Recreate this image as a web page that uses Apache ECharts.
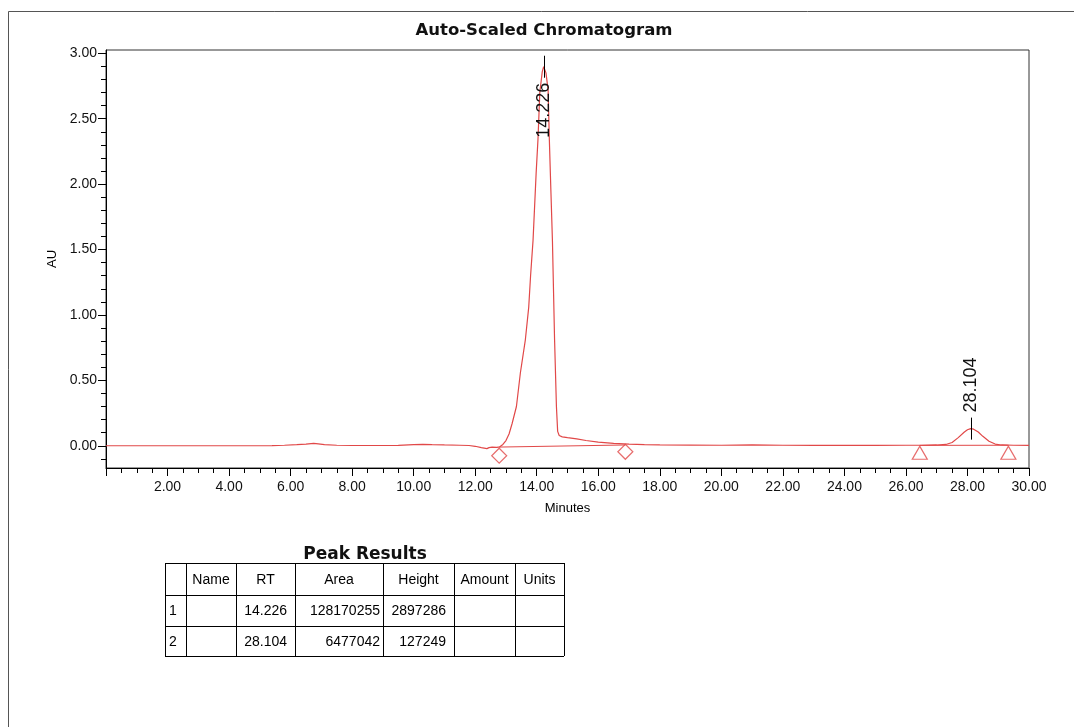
<!DOCTYPE html>
<html>
<head>
<meta charset="utf-8">
<title>Auto-Scaled Chromatogram</title>
<script src="https://cdn.jsdelivr.net/npm/echarts@6/dist/echarts.min.js"></script>
<style>
  html, body { margin: 0; padding: 0; background: #fff; }
  #chart { width: 1074px; height: 727px; }
</style>
</head>
<body>
<div id="chart"></div>
<script>
// Detector trace: retention time (min) and absorbance (AU)
const minutes = [
  0.00, 1.00, 2.00, 3.00, 4.00, 5.00, 5.40, 5.80, 6.20, 6.50, 6.75, 6.90, 7.10, 7.50,
  8.00, 8.50, 9.00, 9.50, 10.00, 10.30, 10.60, 11.00, 11.50, 11.80, 12.00, 12.20, 12.38,
  12.45, 12.55, 12.70, 12.80, 12.90, 13.00, 13.10, 13.20, 13.34, 13.47, 13.63, 13.74,
  13.80, 13.88, 13.98, 14.04, 14.10, 14.18, 14.226, 14.30, 14.37, 14.41, 14.46, 14.51,
  14.58, 14.64, 14.68, 14.73, 14.83, 15.00, 15.30, 15.60, 16.00, 16.50, 17.00, 17.50,
  18.00, 19.00, 20.00, 21.00, 22.00, 23.00, 24.00, 25.00, 26.00, 26.50, 27.00, 27.30,
  27.50, 27.70, 27.90, 28.00, 28.104, 28.20, 28.35, 28.50, 28.70, 28.90, 29.10, 29.50, 30.00
];
const au = [
  0.000, 0.000, 0.000, 0.000, 0.000, 0.000, 0.001, 0.004, 0.008, 0.012, 0.018, 0.014, 0.008, 0.004,
  0.002, 0.002, 0.002, 0.003, 0.008, 0.010, 0.008, 0.006, 0.004, 0.002, -0.004, -0.014, -0.022,
  -0.014, -0.010, -0.012, -0.008, 0.010, 0.040, 0.090, 0.170, 0.300, 0.560, 0.810, 1.060,
  1.300, 1.570, 2.080, 2.340, 2.700, 2.860, 2.897, 2.850, 2.720, 2.340, 1.950, 1.570,
  0.810, 0.300, 0.110, 0.078, 0.068, 0.062, 0.052, 0.040, 0.028, 0.018, 0.012, 0.008,
  0.006, 0.005, 0.004, 0.006, 0.004, 0.003, 0.004, 0.003, 0.004, 0.004, 0.006, 0.010,
  0.025, 0.062, 0.105, 0.122, 0.131, 0.127, 0.105, 0.072, 0.035, 0.013, 0.006, 0.004, 0.003
];

// Integrated peaks: apex (RT, AU) and integration limits
const peakRT = [14.226, 28.104];
const peakApexAU = [2.897, 0.131];
const peak1Limits = [[12.78, -0.076], [16.88, -0.046]];   // diamond marks
const peak2Limits = [[26.45, -0.053], [29.33, -0.053]];   // triangle marks
const peak1Baseline = [[12.78, -0.010], [16.88, 0.006]];
const peak2Baseline = [[26.45, 0.003], [29.33, 0.004]];

// Axis ticks
const yMajorTicks = [0, 0.5, 1.0, 1.5, 2.0, 2.5, 3.0];
const yMinorTicks = [];
for (let i = -1; i <= 30; i++) {
  if (i % 5 !== 0) yMinorTicks.push(i / 10);
}

// Peak Results table
const tableTitle = 'Peak Results';
const tableHeaders = ['', 'Name', 'RT', 'Area', 'Height', 'Amount', 'Units'];
const peakRows = [
  ['1', '', '14.226', '128170255', '2897286', '', ''],
  ['2', '', '28.104', '6477042', '127249', '', '']
];

const RED = '#e14848';
const SANS = '"Liberation Sans", Arial, sans-serif';
const BOLD = '"DejaVu Sans", Verdana, sans-serif';

const chromatogram = minutes.map((m, i) => [m, au[i]]);
const apexData = peakRT.map((rt, i) => [rt, peakApexAU[i], rt.toFixed(3)]);

// Table drawn as graphic lines + text
const colX = [165, 186, 236, 295, 383, 454, 515, 564];
const rowY = [563, 595, 626, 656];
const tableGraphics = [];
rowY.forEach(y => tableGraphics.push({
  type: 'line', shape: { x1: colX[0], y1: y + 0.5, x2: colX[colX.length - 1], y2: y + 0.5 },
  style: { stroke: '#000', lineWidth: 1 }
}));
colX.forEach(x => tableGraphics.push({
  type: 'line', shape: { x1: x + 0.5, y1: rowY[0], x2: x + 0.5, y2: rowY[rowY.length - 1] },
  style: { stroke: '#000', lineWidth: 1 }
}));
function cellText(text, x, y, align) {
  return {
    type: 'text', x: x, y: y,
    style: { text: text, font: '14px ' + SANS, fill: '#000',
      align: align, textAlign: align, verticalAlign: 'middle', textVerticalAlign: 'middle' }
  };
}
tableHeaders.forEach((h, c) => {
  if (!h) return;
  tableGraphics.push(cellText(h, (colX[c] + colX[c + 1]) / 2, (rowY[0] + rowY[1]) / 2 + 1, 'center'));
});
peakRows.forEach((row, r) => {
  const cy = (rowY[r + 1] + rowY[r + 2]) / 2 + 1;
  row.forEach((v, c) => {
    if (!v) return;
    if (c === 0) tableGraphics.push(cellText(v, colX[0] + 4, cy, 'left'));
    else {
      const pad = c === 3 ? 3 : 8;
      tableGraphics.push(cellText(v, colX[c + 1] - pad, cy, 'right'));
    }
  });
});

const chart = echarts.init(document.getElementById('chart'), null, { renderer: 'canvas' });

chart.setOption({
  animation: false,
  backgroundColor: '#fff',
  grid: {
    left: 106, top: 50, right: 45, bottom: 259,
    show: true, borderColor: '#333', borderWidth: 1,
    containLabel: false, outerBoundsMode: 'none'
  },
  xAxis: {
    type: 'value', min: 0, max: 30, interval: 2,
    name: 'Minutes', nameLocation: 'middle', nameGap: 34,
    nameTextStyle: { fontFamily: SANS, fontSize: 13, color: '#000' },
    axisLine: { show: true, onZero: false, lineStyle: { color: '#000', width: 1 } },
    axisTick: { show: true, length: 8, lineStyle: { color: '#000', width: 1 } },
    minorTick: { show: true, splitNumber: 4, length: 5, lineStyle: { color: '#000', width: 1 } },
    axisLabel: {
      fontFamily: SANS, fontSize: 14, color: '#111', margin: 12,
      formatter: v => (v === 0 ? '' : v.toFixed(2))
    },
    splitLine: { show: false },
    minorSplitLine: { show: false }
  },
  yAxis: [
    {
      type: 'value', min: -0.17, max: 3.025, position: 'left',
      name: 'AU', nameLocation: 'middle', nameGap: 46, nameRotate: 90,
      nameTextStyle: { fontFamily: SANS, fontSize: 13, color: '#000' },
      axisLine: { show: true, onZero: false, lineStyle: { color: '#000', width: 1 } },
      axisTick: { show: true, length: 8, customValues: yMajorTicks, lineStyle: { color: '#000', width: 1 } },
      axisLabel: {
        customValues: yMajorTicks, fontFamily: SANS, fontSize: 14, color: '#111', margin: 9,
        formatter: v => v.toFixed(2)
      },
      splitLine: { show: false }
    },
    {
      type: 'value', min: -0.17, max: 3.025, position: 'left', offset: 0,
      axisLine: { show: false },
      axisTick: { show: true, length: 5, customValues: yMinorTicks, lineStyle: { color: '#000', width: 1 } },
      axisLabel: { show: false },
      splitLine: { show: false }
    }
  ],
  graphic: [
    {
      type: 'polyline', shape: { points: [[8.5, 727], [8.5, 11.5], [1074, 11.5]] },
      style: { stroke: '#555', lineWidth: 1, fill: null }
    },
    {
      type: 'text', x: 544, y: 31,
      style: { text: 'Auto-Scaled Chromatogram', font: 'bold 16.5px ' + BOLD, fill: '#111',
        align: 'center', textAlign: 'center', verticalAlign: 'middle', textVerticalAlign: 'middle' }
    },
    {
      type: 'text', x: 365, y: 555,
      style: { text: tableTitle, font: 'bold 17px ' + BOLD, fill: '#111',
        align: 'center', textAlign: 'center', verticalAlign: 'middle', textVerticalAlign: 'middle' }
    }
  ].concat(tableGraphics),
  series: [
    {
      name: 'Chromatogram', type: 'line', data: chromatogram,
      showSymbol: false, symbol: 'none', smooth: false,
      lineStyle: { color: RED, width: 1.2 }, z: 3
    },
    {
      name: 'Peak 1 baseline', type: 'line', data: peak1Baseline,
      showSymbol: false, symbol: 'none', lineStyle: { color: RED, width: 1 }, z: 2
    },
    {
      name: 'Peak 2 baseline', type: 'line', data: peak2Baseline,
      showSymbol: false, symbol: 'none', lineStyle: { color: RED, width: 1 }, z: 2
    },
    {
      name: 'Peak 1 limits', type: 'scatter', data: peak1Limits,
      symbol: 'diamond', symbolSize: [15, 15],
      itemStyle: { color: 'rgba(255,255,255,0)', borderColor: RED, borderWidth: 1.2 }, z: 4
    },
    {
      name: 'Peak 2 limits', type: 'scatter', data: peak2Limits,
      symbol: 'triangle', symbolSize: [15, 13],
      itemStyle: { color: 'rgba(255,255,255,0)', borderColor: RED, borderWidth: 1.2 }, z: 4
    },
    {
      name: 'Peak labels', type: 'custom', data: apexData, z: 5,
      renderItem: function (params, api) {
        const p = api.coord([api.value(0), api.value(1)]);
        const x = Math.round(p[0]) + 0.5;
        const below = api.value(1) > 1.5;
        const half = 11;
        return {
          type: 'group',
          children: [
            {
              type: 'line', shape: { x1: x, y1: p[1] - half, x2: x, y2: p[1] + half },
              style: { stroke: '#000', lineWidth: 1 }
            },
            {
              type: 'text', x: x, y: below ? p[1] + 16 : p[1] - 16, rotation: Math.PI / 2,
              style: {
                text: api.value(2), font: '18px ' + SANS, fill: '#111',
                align: below ? 'right' : 'left', textAlign: below ? 'right' : 'left',
                verticalAlign: 'middle', textVerticalAlign: 'middle'
              }
            }
          ]
        };
      }
    }
  ]
});
</script>
</body>
</html>
